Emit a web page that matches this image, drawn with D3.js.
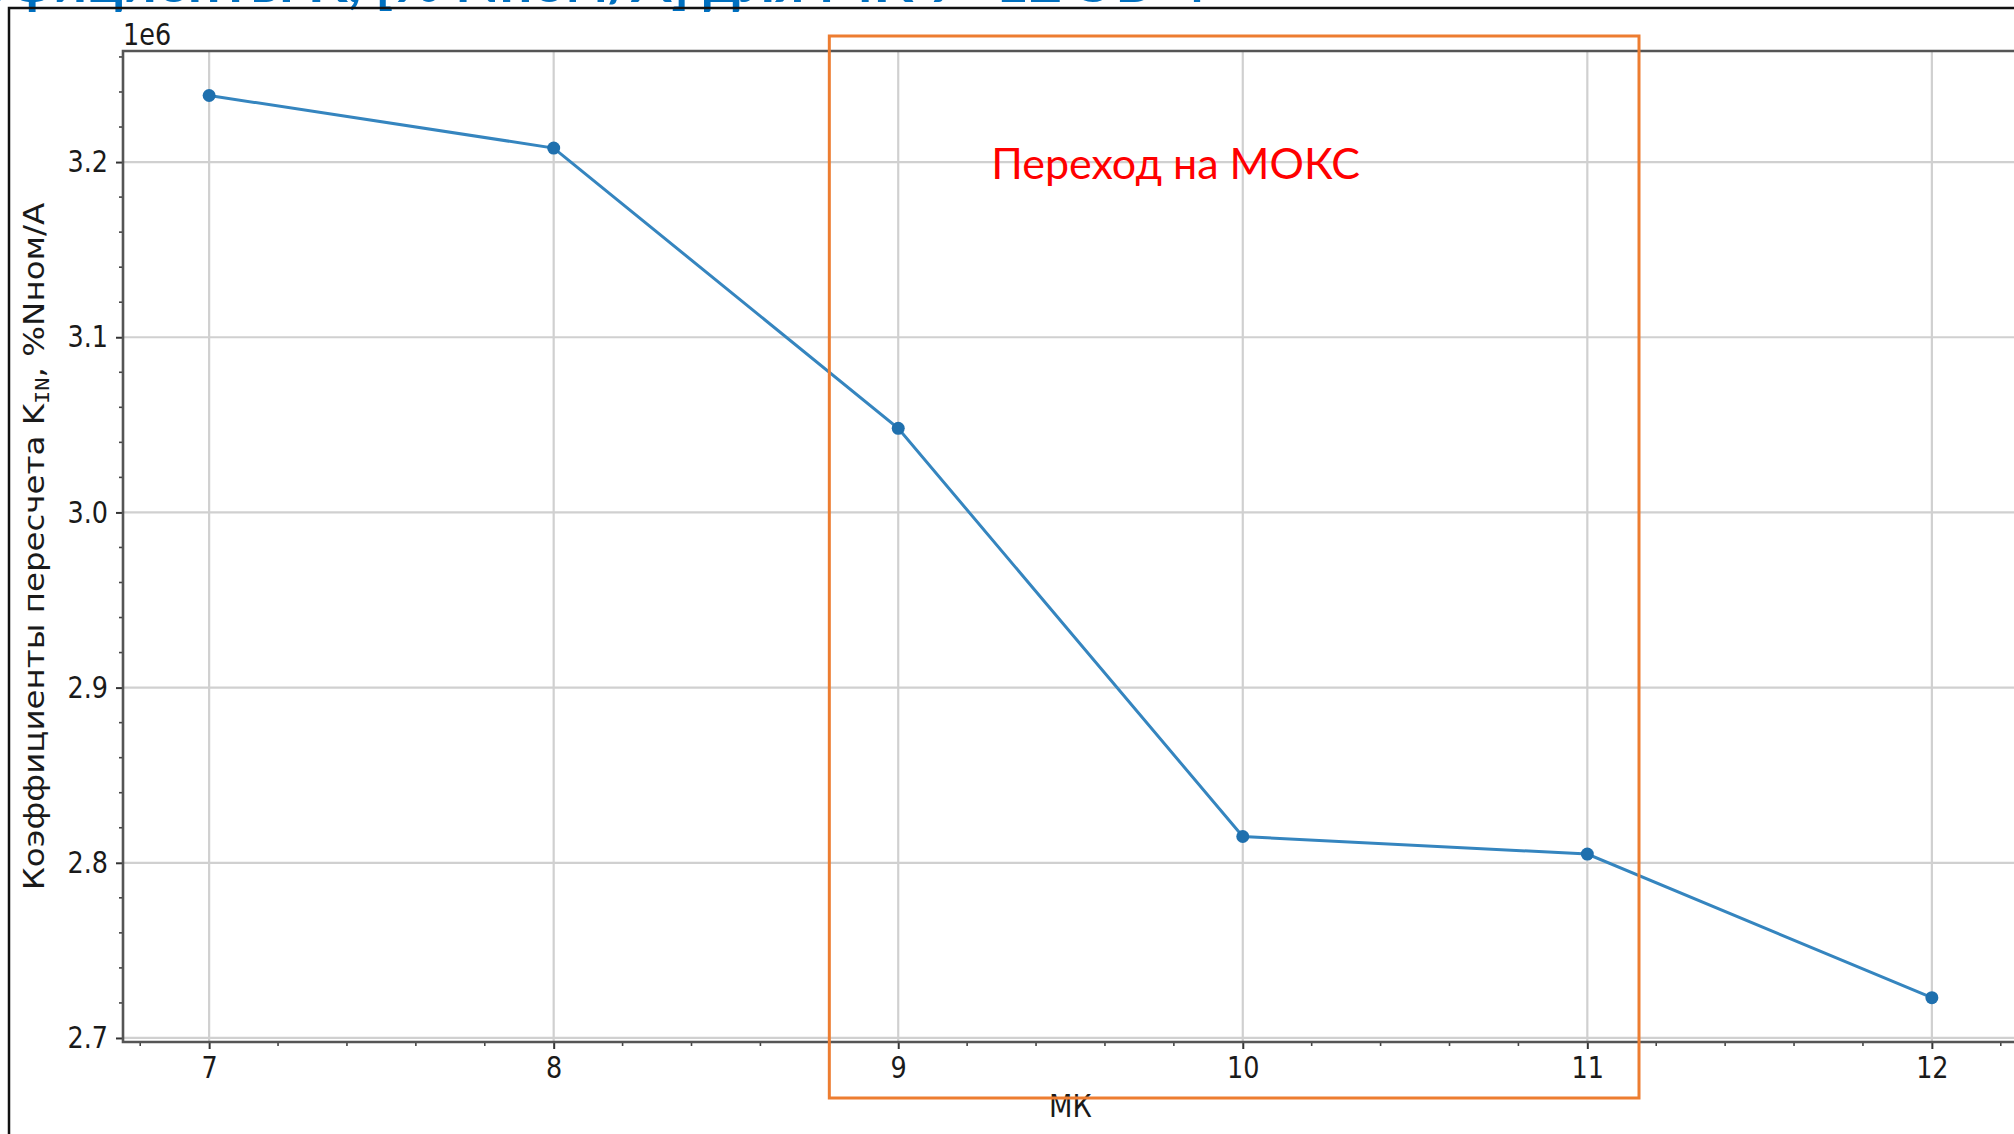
<!DOCTYPE html>
<html>
<head>
<meta charset="utf-8">
<script src="https://cdn.jsdelivr.net/npm/d3@7"></script>
<style>
body { margin: 0; background: #fff; overflow: hidden; }
text { font-family: "DejaVu Sans", sans-serif; }
</style>
</head>
<body>
<div id="renderDiv"></div>
<script>
// data
let mk = [7, 8, 9, 10, 11, 12];
let kin = [3238000, 3208000, 3048000, 2815000, 2805000, 2723000];
let xTicks = [7, 8, 9, 10, 11, 12];
let yTicks = [2700000, 2800000, 2900000, 3000000, 3100000, 3200000];
let zone = [8.8, 11.15];          // МОКС region (x units)
let noteAt = 9.27;
let noteText = "Переход на МОКС";
let xLabel = "МК";
let titleText = "Коэффициенты K, [% Nном/А] для МК 7–12 ЭБ-4";

let W = 2014, H = 1134;
let sq = 0.85;   // the matplotlib picture is squeezed horizontally in the slide

let svg = d3.select("#renderDiv").append("svg")
    .attr("width", W)
    .attr("height", H);

let x = d3.scaleLinear().domain([6.75, 12.25]).range([123, 2018]);
let y = d3.scaleLinear().domain([2697700, 3263400]).range([1042, 51]);

// slide title, mostly above the visible area
svg.append("text")
    .attr("x", 1207).attr("y", 2)
    .attr("text-anchor", "end")
    .style("font-family", "Lato, sans-serif")
    .style("font-weight", "bold")
    .style("font-size", "58px")
    .attr("fill", "#0070c0")
    .text(titleText);

// picture frame
svg.append("path")
    .attr("d", "M9," + H + "V8H" + W)
    .attr("fill", "none")
    .attr("stroke", "#111")
    .attr("stroke-width", 2.5);

let g = svg.append("g");

// grid
g.selectAll(".vgrid").data(xTicks).enter().append("line")
    .attr("x1", d => x(d)).attr("x2", d => x(d))
    .attr("y1", y.range()[0]).attr("y2", y.range()[1])
    .attr("stroke", "#d0d0d0").attr("stroke-width", 2.2);
g.selectAll(".hgrid").data(yTicks).enter().append("line")
    .attr("x1", x.range()[0]).attr("x2", W)
    .attr("y1", d => y(d)).attr("y2", d => y(d))
    .attr("stroke", "#d0d0d0").attr("stroke-width", 2.2);

// minor ticks
let xMinor = d3.range(34, 62).filter(i => i % 5 != 0).map(i => i / 5);
let yMinor = d3.range(135, 164).filter(i => i % 5 != 0).map(i => i * 20000);
g.selectAll(".xminor").data(xMinor).enter().append("line")
    .attr("x1", d => x(d)).attr("x2", d => x(d))
    .attr("y1", y.range()[0]).attr("y2", y.range()[0] + 4)
    .attr("stroke", "#444").attr("stroke-width", 1.6);
g.selectAll(".yminor").data(yMinor).enter().append("line")
    .attr("x1", x.range()[0] - 4).attr("x2", x.range()[0])
    .attr("y1", d => y(d)).attr("y2", d => y(d))
    .attr("stroke", "#444").attr("stroke-width", 1.6);

// axes
let xAxis = g.append("g")
    .attr("transform", "translate(0," + y.range()[0] + ")")
    .call(d3.axisBottom(x).tickValues(xTicks).tickSize(7).tickPadding(8).tickFormat(d3.format("d")));
let yAxis = g.append("g")
    .attr("transform", "translate(" + x.range()[0] + ",0)")
    .call(d3.axisLeft(y).tickValues(yTicks).tickSize(7).tickPadding(8).tickFormat(d => d3.format(".1f")(d / 1e6)));

[xAxis, yAxis].forEach(function(a){
    a.select(".domain").remove();
    a.selectAll(".tick line").attr("stroke", "#333").attr("stroke-width", 2);
    a.selectAll(".tick text")
        .attr("fill", "#1a1a1a")
        .style("font-family", "DejaVu Sans, sans-serif")
        .style("font-size", "30px");
});
xAxis.selectAll(".tick text").attr("transform", "scale(" + sq + ",1)");
yAxis.selectAll(".tick text").attr("x", -15 / sq).attr("transform", "scale(" + sq + ",1)");

// spines
g.append("path")
    .attr("d", "M" + W + "," + y.range()[1] + "H" + x.range()[0] + "V" + y.range()[0] + "H" + W)
    .attr("fill", "none")
    .attr("stroke", "#555")
    .attr("stroke-width", 2.6);

// offset text
svg.append("g")
    .attr("transform", "translate(123,45) scale(" + sq + ",1)")
    .append("text")
    .style("font-size", "30px")
    .attr("fill", "#1a1a1a")
    .text("1e6");

// y label
let yl = svg.append("g")
    .attr("transform", "translate(44," + (y.range()[0] + y.range()[1]) / 2 + ") scale(" + sq + ",1) rotate(-90)")
    .append("text")
    .attr("text-anchor", "middle")
    .style("font-size", "32.5px")
    .attr("fill", "#1a1a1a");
yl.append("tspan").text("Коэффициенты пересчета K");
yl.append("tspan")
    .style("font-family", "DejaVu Sans Mono, monospace")
    .style("font-size", "22px")
    .attr("dy", 6)
    .text("IN");
yl.append("tspan").attr("dy", -6).text(", %Nном/A");

// x label
svg.append("g")
    .attr("transform", "translate(" + x(9.5) + ",1117) scale(" + sq + ",1)")
    .append("text")
    .attr("text-anchor", "middle")
    .style("font-size", "32px")
    .attr("fill", "#1a1a1a")
    .text(xLabel);

// series
let line = d3.line().x((d, i) => x(mk[i])).y(d => y(d));
g.append("path")
    .datum(kin)
    .attr("d", line)
    .attr("fill", "none")
    .attr("stroke", "#3585bf")
    .attr("stroke-width", 3);
g.selectAll(".dot").data(kin).enter().append("circle")
    .attr("cx", (d, i) => x(mk[i]))
    .attr("cy", d => y(d))
    .attr("r", 6.5)
    .attr("fill", "#1f70ae");

// slide annotation: orange box and red note
svg.append("rect")
    .attr("x", x(zone[0])).attr("y", 36)
    .attr("width", x(zone[1]) - x(zone[0]))
    .attr("height", 1062)
    .attr("fill", "none")
    .attr("stroke", "#ed7d31")
    .attr("stroke-width", 3);

svg.append("text")
    .attr("x", x(noteAt)).attr("y", 179)
    .style("font-family", "Lato, sans-serif")
    .style("font-size", "43px")
    .attr("fill", "#ff0000")
    .text(noteText);
</script>
</body>
</html>
